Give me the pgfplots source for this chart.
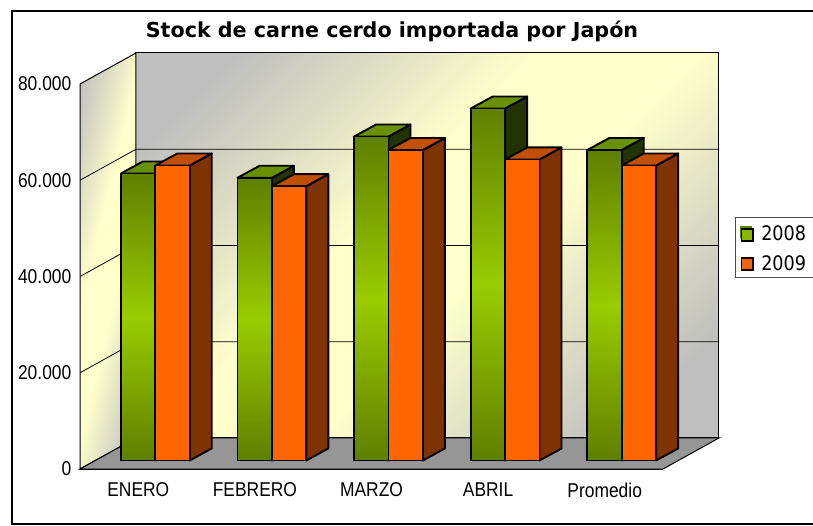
\documentclass[border=0pt]{standalone}
\usepackage{pgfplots}
\pgfplotsset{compat=1.18}
\usepackage{fontspec}
\setmainfont{Liberation Sans}
\newfontfamily\narrowfont[FakeStretch=0.87]{Liberation Sans}
\newfontfamily\titlefont{DejaVu Sans}
\newfontfamily\legfont[FakeStretch=0.88]{DejaVu Sans}
\def\px{0.75pt}
\definecolor{wgray}{HTML}{BFBFBF}
\definecolor{wyel}{HTML}{FFFFCC}
\definecolor{floorc}{HTML}{969696}
\definecolor{gdark}{HTML}{5F7F00}
\definecolor{glight}{HTML}{99CC00}
\definecolor{gside}{HTML}{223300}
\definecolor{gtop}{HTML}{699000}
\definecolor{ofront}{HTML}{FF6600}
\definecolor{oside}{HTML}{7F3300}
\definecolor{otop}{HTML}{C04F00}
\pgfdeclareverticalshading{wallshade}{100bp}{color(0bp)=(wgray); color(22bp)=(wgray); color(44bp)=(wyel); color(56bp)=(wyel); color(78bp)=(wgray); color(100bp)=(wgray)}
% side and top faces of one bar: left edge, right edge, value, value at the back, colours
\newcommand{\barfaces}[6]{%
  \pgfmathsetmacro{\xa}{#1+0.1887}%
  \pgfmathsetmacro{\xb}{#2+0.1887}%
  \addplot[fill=#5,draw=black,line width=1.9*\px,line join=round] coordinates {(#2,0)(\xb,2500)(\xb,#4)(#2,#3)} --cycle;
  \addplot[fill=#6,draw=black,line width=1.9*\px,line join=round] coordinates {(#1,#3)(\xa,#4)(\xb,#4)(#2,#3)} --cycle;
}
\begin{document}
\begin{tikzpicture}
\useasboundingbox (0,0) rectangle (813*\px,525*\px);
\fill[white] (0,0) rectangle (813*\px,525*\px);
\draw[black,line width=2*\px] (813*\px,514*\px) -- (11.5*\px,514*\px) -- (11.5*\px,1.5*\px) -- (813*\px,1.5*\px);
\node[anchor=center,font=\titlefont\bfseries\fontsize{15.5}{18}\selectfont] at (392*\px,494*\px) {Stock de carne cerdo importada por Japón};
\begin{axis}[
  at={(80*\px,56*\px)},anchor=south west,scale only axis,
  width=583*\px,height=385*\px,
  xmin=0.5,xmax=5.5,ymin=0,ymax=80000,
  clip=false,
  axis x line=bottom,axis y line=left,
  axis line style={-,draw=black,line width=1*\px},
  scaled y ticks=false,
  xtick={1,2,3,4,5},
  xticklabels={ENERO,FEBRERO,MARZO,ABRIL,Promedio},
  minor xtick={1.5,2.5,3.5,4.5,5.5},
  ytick={0,20000,40000,60000,80000},
  yticklabels={0,20.000,40.000,60.000,80.000},
  major x tick style={draw=none},
  minor x tick style={draw=black!60,line width=0.8*\px},
  minor tick length=5*\px,
  major y tick style={draw=black!60,line width=0.8*\px},
  major tick length=5*\px,
  tick align=inside,
  xticklabel style={font=\narrowfont\fontsize{15}{16}\selectfont,yshift=-9*\px},
  yticklabel style={font=\narrowfont\fontsize{15}{16}\selectfont,xshift=-4*\px},
]
% walls and floor
\addplot[shading=wallshade,shading angle=45,draw=black,line width=1*\px] coordinates {(0.98,6442)(5.98,6442)(5.98,86442)(0.98,86442)} --cycle;
\addplot[shading=wallshade,shading angle=76,draw=black,line width=1*\px] coordinates {(0.5,0)(0.98,6442)(0.98,86442)(0.5,80000)} --cycle;
\addplot[fill=floorc,draw=black,line width=1*\px] coordinates {(0.5,0)(5.5,0)(5.98,6442)(0.98,6442)} --cycle;
% gridlines on the walls
\addplot[black,line width=0.8*\px] coordinates {(0.5,20000)(0.98,26442)(5.98,26442)};
\addplot[black,line width=0.8*\px] coordinates {(0.5,40000)(0.98,46442)(5.98,46442)};
\addplot[black,line width=0.8*\px] coordinates {(0.5,60000)(0.98,66442)(5.98,66442)};
\end{axis}
\begin{axis}[
  at={(97*\px,64.5*\px)},anchor=south west,scale only axis,
  width=583*\px,height=385*\px,
  xmin=0.5,xmax=5.5,ymin=0,ymax=80000,
  clip=false,axis lines=none,
  every axis plot/.append style={line width=1.9*\px},
]
% ENERO
\barfaces{0.705}{1.0}{59640}{62140}{gside}{gtop}
\addplot[ybar,bar width=0.295,bar shift=-0.1475,draw=black,top color=gdark,bottom color=gdark,middle color=glight] coordinates {(1,59640)};
\barfaces{1.0}{1.295}{61300}{63800}{oside}{otop}
\addplot[ybar,bar width=0.295,bar shift=0.1475,draw=black,fill=ofront] coordinates {(1,61300)};
% FEBRERO
\barfaces{1.705}{2.0}{58740}{61240}{gside}{gtop}
\addplot[ybar,bar width=0.295,bar shift=-0.1475,draw=black,top color=gdark,bottom color=gdark,middle color=glight] coordinates {(2,58740)};
\barfaces{2.0}{2.295}{57000}{59500}{oside}{otop}
\addplot[ybar,bar width=0.295,bar shift=0.1475,draw=black,fill=ofront] coordinates {(2,57000)};
% MARZO
\barfaces{2.705}{3.0}{67320}{69820}{gside}{gtop}
\addplot[ybar,bar width=0.295,bar shift=-0.1475,draw=black,top color=gdark,bottom color=gdark,middle color=glight] coordinates {(3,67320)};
\barfaces{3.0}{3.295}{64520}{67020}{oside}{otop}
\addplot[ybar,bar width=0.295,bar shift=0.1475,draw=black,fill=ofront] coordinates {(3,64520)};
% ABRIL
\barfaces{3.705}{4.0}{73140}{75640}{gside}{gtop}
\addplot[ybar,bar width=0.295,bar shift=-0.1475,draw=black,top color=gdark,bottom color=gdark,middle color=glight] coordinates {(4,73140)};
\barfaces{4.0}{4.295}{62550}{65050}{oside}{otop}
\addplot[ybar,bar width=0.295,bar shift=0.1475,draw=black,fill=ofront] coordinates {(4,62550)};
% Promedio
\barfaces{4.705}{5.0}{64520}{67020}{gside}{gtop}
\addplot[ybar,bar width=0.295,bar shift=-0.1475,draw=black,top color=gdark,bottom color=gdark,middle color=glight] coordinates {(5,64520)};
\barfaces{5.0}{5.295}{61300}{63800}{oside}{otop}
\addplot[ybar,bar width=0.295,bar shift=0.1475,draw=black,fill=ofront] coordinates {(5,61300)};
\end{axis}
% legend
\draw[black!70,fill=white,line width=0.8*\px] (813*\px,308*\px) -- (735*\px,308*\px) -- (735*\px,248*\px) -- (813*\px,248*\px);
\fill[gdark] (739.5*\px,286.5*\px) rectangle (751.5*\px,299*\px);
\draw[black,line width=1.2*\px,fill=glight!70!gdark] (741.5*\px,284*\px) rectangle (753*\px,296*\px);
\draw[black,line width=1.2*\px,fill=ofront] (741.5*\px,255*\px) rectangle (753*\px,267*\px);
\node[anchor=west,font=\legfont\fontsize{15}{16}\selectfont,inner sep=0pt] at (761*\px,292*\px) {2008};
\node[anchor=west,font=\legfont\fontsize{15}{16}\selectfont,inner sep=0pt] at (761*\px,262*\px) {2009};
\end{tikzpicture}
\end{document}
